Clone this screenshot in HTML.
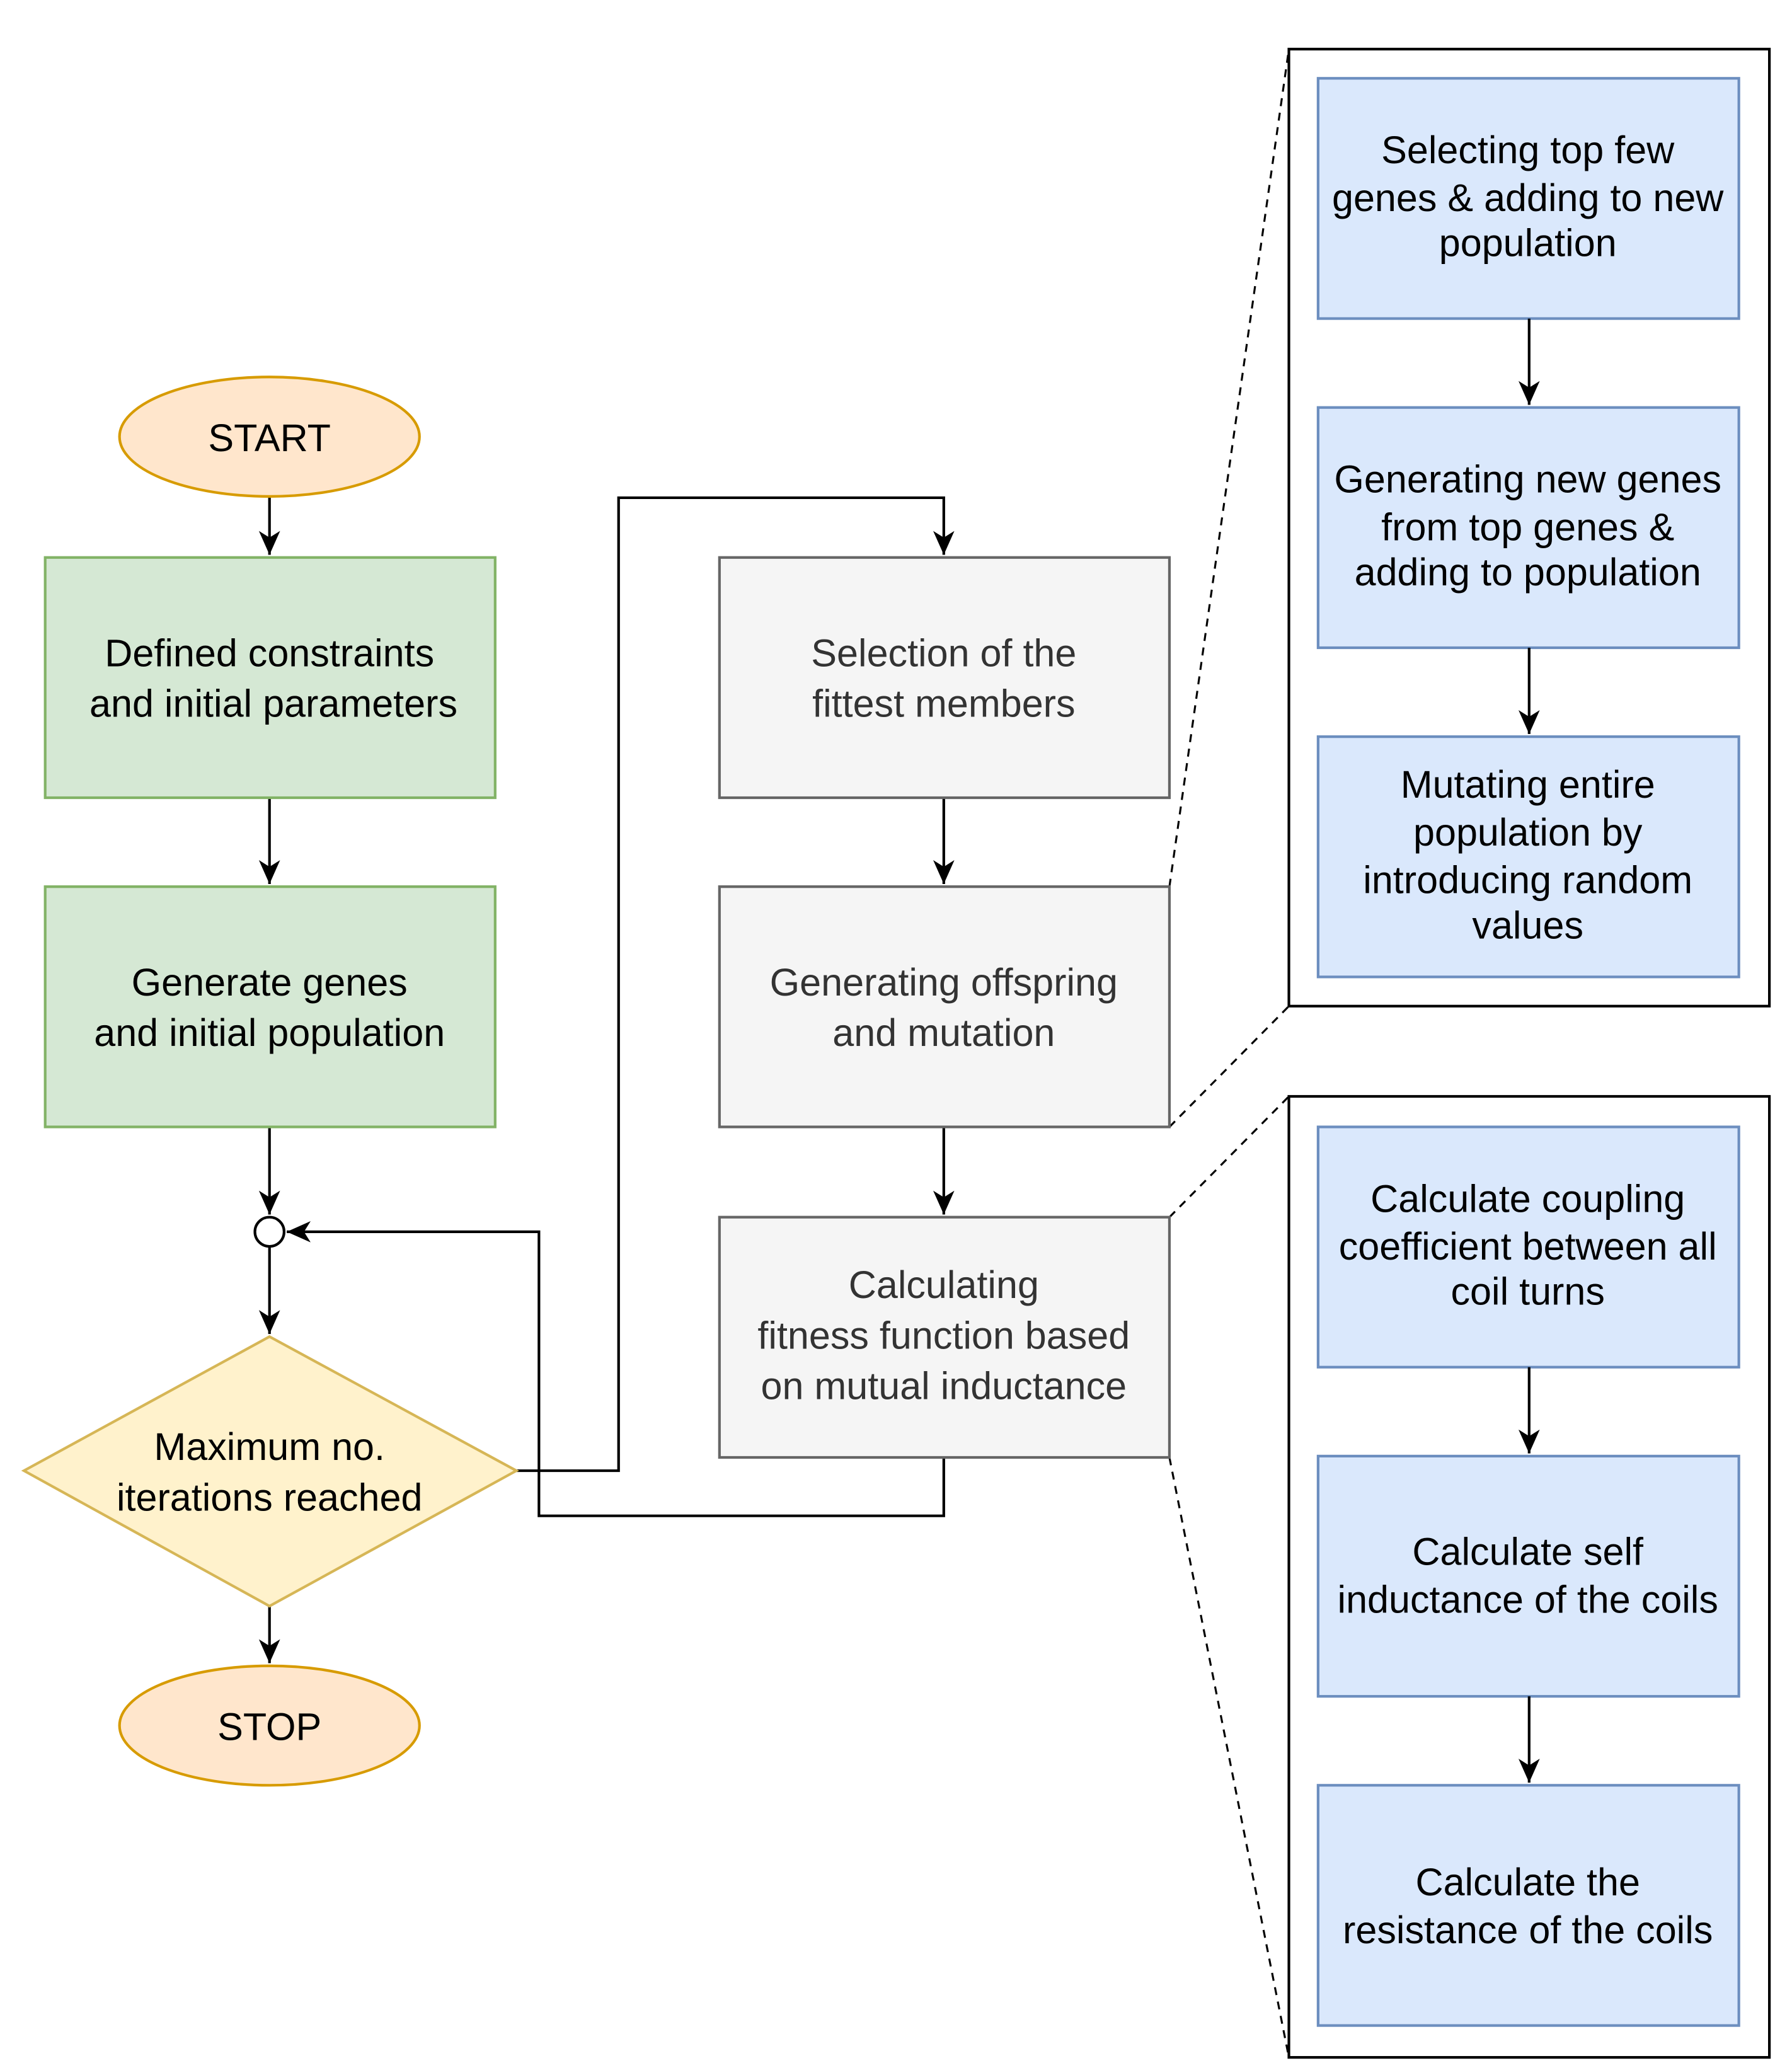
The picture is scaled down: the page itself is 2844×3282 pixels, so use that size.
<!DOCTYPE html>
<html><head><meta charset="utf-8"><style>
html,body{margin:0;padding:0;background:#fff}
svg{display:block}
text{font-family:"Liberation Sans",Arial,sans-serif;font-size:29px;text-anchor:middle}
</style></head><body>
<svg width="2844" height="3282" viewBox="0 0 1350 1558" xmlns="http://www.w3.org/2000/svg">
<defs>
<marker id="b" markerWidth="20" markerHeight="20" refX="18" refY="8" orient="auto" markerUnits="userSpaceOnUse">
<path d="M0,0 L18,8 L0,16 L5,8 Z" fill="#000"/></marker></defs>
<g stroke="#000" stroke-width="2" fill="none">
<line x1="203" y1="375" x2="203" y2="418" marker-end="url(#b)"/>
<line x1="203" y1="601" x2="203" y2="666" marker-end="url(#b)"/>
<line x1="203" y1="849" x2="203" y2="915" marker-end="url(#b)"/>
<line x1="203" y1="939" x2="203" y2="1005" marker-end="url(#b)"/>
<line x1="203" y1="1210" x2="203" y2="1253" marker-end="url(#b)"/>
<polyline points="389,1108 466,1108 466,375 711,375 711,418" marker-end="url(#b)"/>
<line x1="711" y1="601" x2="711" y2="666" marker-end="url(#b)"/>
<line x1="711" y1="849" x2="711" y2="915" marker-end="url(#b)"/>
<polyline points="711,1098 711,1142 406,1142 406,928 216,928" marker-end="url(#b)"/>
</g>
<g stroke="#000" stroke-width="1.5" stroke-dasharray="6,5" fill="none">
<line x1="881" y1="668" x2="971" y2="37"/>
<line x1="881" y1="849" x2="971" y2="758"/>
<line x1="881" y1="917" x2="971" y2="826"/>
<line x1="881" y1="1098" x2="971" y2="1550"/>
</g>
<circle cx="203" cy="928" r="11" fill="#fff" stroke="#000" stroke-width="2"/>
<g stroke-width="2">
<ellipse cx="203" cy="329" rx="113" ry="45" fill="#ffe6cc" stroke="#d79b00"/>
<ellipse cx="203" cy="1300" rx="113" ry="45" fill="#ffe6cc" stroke="#d79b00"/>
<rect x="34" y="420" width="339" height="181" fill="#d5e8d4" stroke="#82b366"/>
<rect x="34" y="668" width="339" height="181" fill="#d5e8d4" stroke="#82b366"/>
<polygon points="18,1108 203,1007 389,1108 203,1210" fill="#fff2cc" stroke="#d6b656"/>
<rect x="542" y="420" width="339" height="181" fill="#f5f5f5" stroke="#666"/>
<rect x="542" y="668" width="339" height="181" fill="#f5f5f5" stroke="#666"/>
<rect x="542" y="917" width="339" height="181" fill="#f5f5f5" stroke="#666"/>
<rect x="971" y="37" width="362" height="721" fill="#fff" stroke="#000"/>
<rect x="971" y="826" width="362" height="724" fill="#fff" stroke="#000"/>
<rect x="993" y="59" width="317" height="181" fill="#dae8fc" stroke="#6c8ebf"/>
<rect x="993" y="307" width="317" height="181" fill="#dae8fc" stroke="#6c8ebf"/>
<rect x="993" y="555" width="317" height="181" fill="#dae8fc" stroke="#6c8ebf"/>
<rect x="993" y="849" width="317" height="181" fill="#dae8fc" stroke="#6c8ebf"/>
<rect x="993" y="1097" width="317" height="181" fill="#dae8fc" stroke="#6c8ebf"/>
<rect x="993" y="1345" width="317" height="181" fill="#dae8fc" stroke="#6c8ebf"/>
</g>
<g stroke="#000" stroke-width="2" fill="none">
<line x1="1152" y1="240" x2="1152" y2="305" marker-end="url(#b)"/>
<line x1="1152" y1="488" x2="1152" y2="553" marker-end="url(#b)"/>
<line x1="1152" y1="1030" x2="1152" y2="1095" marker-end="url(#b)"/>
<line x1="1152" y1="1278" x2="1152" y2="1343" marker-end="url(#b)"/>
</g>
<g fill="#000">
<text x="203" y="340">START</text>
<text x="203" y="1311">STOP</text>
<text x="203" y="502">Defined constraints</text>
<text x="206" y="540">and initial parameters</text>
<text x="203" y="750">Generate genes</text>
<text x="203" y="788">and initial population</text>
<text x="203" y="1100">Maximum no.</text>
<text x="203" y="1138">iterations reached</text>
</g>
<g fill="#333">
<text x="711" y="502">Selection of the</text>
<text x="711" y="540">fittest members</text>
<text x="711" y="750">Generating offspring</text>
<text x="711" y="788">and mutation</text>
<text x="711" y="978">Calculating</text>
<text x="711" y="1016">fitness function based</text>
<text x="711" y="1054">on mutual inductance</text>
</g>
<g fill="#000" style="font-size:27px">
<text x="1151" y="123">Selecting top few</text>
<text x="1151" y="159">genes &amp; adding to new</text>
<text x="1151" y="193">population</text>
<text x="1151" y="371">Generating new genes</text>
<text x="1151" y="407">from top genes &amp;</text>
<text x="1151" y="441">adding to population</text>
<text x="1151" y="601">Mutating entire</text>
<text x="1151" y="637">population by</text>
<text x="1151" y="673">introducing random</text>
<text x="1151" y="707">values</text>
<text x="1151" y="913">Calculate coupling</text>
<text x="1151" y="949">coefficient between all</text>
<text x="1151" y="983">coil turns</text>
<text x="1151" y="1179">Calculate self</text>
<text x="1151" y="1215">inductance of the coils</text>
<text x="1151" y="1428">Calculate the</text>
<text x="1151" y="1464">resistance of the coils</text>
</g>
</svg>
</body></html>
